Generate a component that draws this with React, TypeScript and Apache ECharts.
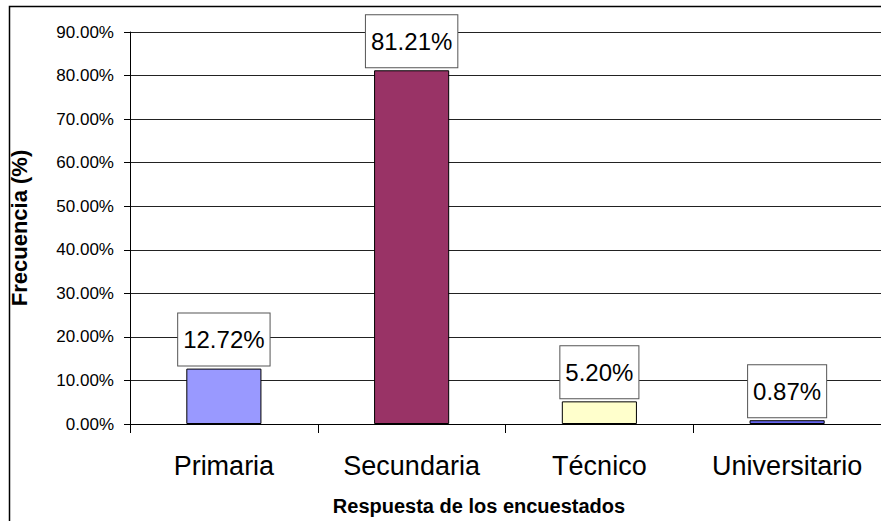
import React, { useEffect, useRef } from "react";
import * as echarts from "echarts";

const categories = ["Primaria", "Secundaria", "Técnico", "Universitario"];
const values = [12.72, 81.21, 5.2, 0.87];
const barColors = ["#9999ff", "#993366", "#ffffcc", "#6666ee"];
const yTicks = { min: 0, max: 90, interval: 10 };
const yTitle = "Frecuencia (%)";
const xTitle = "Respuesta de los encuestados";

const FONT = "Liberation Sans, Arial, sans-serif";

export default function App() {
  const ref = useRef<HTMLDivElement>(null);
  useEffect(() => {
    document.body.style.margin = "0";
    if (!ref.current) return;
    const chart = echarts.init(ref.current, undefined, { renderer: "svg" });
    chart.setOption({
      animation: false,
      backgroundColor: "#ffffff",
      grid: { left: 126, top: 32, width: 755, height: 392, containLabel: false },
      graphic: [
        {
          type: "rect",
          shape: { x: 9.5, y: 6.5, width: 1000, height: 1000 },
          style: { fill: "none", stroke: "#000", lineWidth: 1.5 },
          silent: true,
        },
        {
          type: "text",
          x: 479,
          y: 506,
          style: {
            text: xTitle,
            fontFamily: FONT,
            fontWeight: "bold",
            fontSize: 20,
            fill: "#000",
            align: "center",
            verticalAlign: "middle",
          },
        },
      ],
      xAxis: {
        type: "category",
        data: categories,
        axisLine: { lineStyle: { color: "#000", width: 1 } },
        axisTick: { show: true, length: 9, lineStyle: { color: "#000" } },
        axisLabel: {
          interval: 0,
          margin: 28,
          fontSize: 27,
          fontFamily: FONT,
          color: "#000",
        },
      },
      yAxis: {
        type: "value",
        min: yTicks.min,
        max: yTicks.max,
        interval: yTicks.interval,
        name: yTitle,
        nameLocation: "middle",
        nameGap: 100,
        nameRotate: 90,
        nameTextStyle: {
          fontFamily: FONT,
          fontWeight: "bold",
          fontSize: 22,
          color: "#000",
        },
        axisLine: { show: true, lineStyle: { color: "#000", width: 1 } },
        axisTick: { show: true, length: 6, lineStyle: { color: "#000" } },
        axisLabel: {
          margin: 16,
          fontSize: 17,
          fontFamily: FONT,
          color: "#000",
          formatter: (v: number) => v.toFixed(2) + "%",
        },
        splitLine: { show: true, lineStyle: { color: "#222", width: 1 } },
      },
      series: [
        {
          type: "bar",
          barWidth: "40%",
          data: values.map((v, i) => ({
            value: v,
            itemStyle: { color: barColors[i] },
          })),
          itemStyle: { borderColor: "#000", borderWidth: 1 },
          label: {
            show: true,
            position: "top",
            distance: 3,
            formatter: (p: any) => p.value.toFixed(2) + "%",
            fontFamily: FONT,
            fontSize: 24,
            lineHeight: 24,
            color: "#000",
            backgroundColor: "#fff",
            borderColor: "#555",
            borderWidth: 1,
            padding: [14, 5, 14, 5],
          },
        },
      ],
    });
    return () => chart.dispose();
  }, []);
  return <div ref={ref} style={{ width: 881, height: 521 }} />;
}
